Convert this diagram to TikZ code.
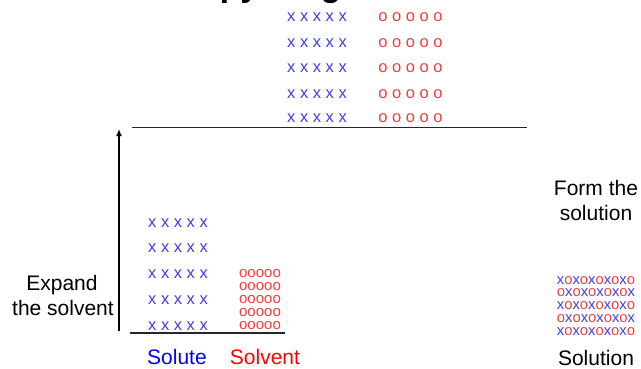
\documentclass[tikz,border=0pt]{standalone}
\usepackage{fontspec}
\setmainfont{Liberation Sans}
\usetikzlibrary{arrows.meta}
\definecolor{xblue}{RGB}{64,64,226}
\definecolor{ored}{RGB}{240,64,64}
\newcommand\myX{\textcolor{xblue}{x}}
\newcommand\myO{\textcolor{ored}{o}}
\tikzset{
  lbl/.style={font=\fontsize{21}{24}\selectfont, anchor=base, inner sep=0pt},
  xrow/.style={font=\fontsize{16.5}{18}\selectfont, text=xblue, inner sep=0pt},
  orow/.style={font=\fontsize{16.5}{18}\selectfont, text=ored, inner sep=0pt},
  ocompact/.style={font=\fontsize{15}{16}\selectfont, text=ored, inner sep=0pt},
  mixrow/.style={font=\fontsize{14.8}{16}\selectfont, inner sep=0pt},
  shelf/.style={line width=1.5pt, black!85},
}
\begin{document}
\begin{tikzpicture}[x=1pt,y=-1pt]
\clip (0,0) rectangle (641,368);
% title, clipped at the top
\node[font=\bfseries\fontsize{33.6}{36}\selectfont, anchor=base west, inner sep=0pt] (title) at (117,-3.5) {Enthalpy Diagram};
% top level: expanded solute and solvent
\foreach \y [count=\i] in {17,43,68,94,118} {
  \node[xrow] (tx\i) at (317,\y) {x x x x x};
  \node[orow] (to\i) at (410.5,\y) {o o o o o};
}
\coordinate (tl1) at (132,127.5);
\coordinate (tl2) at (527,127.5);
\draw[shelf] (tl1) -- (tl2);
% bottom level: solute and solvent
\foreach \y [count=\i] in {223,248,274,300,326} {
  \node[xrow] (bx\i) at (178,\y) {x x x x x};
}
\foreach \y [count=\i] in {274,287,300,313,326} {
  \node[ocompact] (bo\i) at (260,\y) {ooooo};
}
\coordinate (bl1) at (130,333);
\coordinate (bl2) at (285,333);
\draw[shelf] (bl1) -- (bl2);
% arrow
\coordinate (a0) at (119,331);
\coordinate (a1) at (119,129);
\draw[line width=1.5pt, -{Latex[length=7pt,width=6pt]}] (a0) -- (a1);
% labels
\node[lbl] (exp1) at (62,290) {Expand};
\node[lbl] (exp2) at (63,315) {the solvent};
\node[lbl, text=blue] (solute) at (177,364) {Solute};
\node[lbl, text=red] (solvent) at (265,364.5) {Solvent};
\node[lbl] (form1) at (596,195) {Form the};
\node[lbl] (form2) at (596,220) {solution};
\node[lbl] (solution) at (596,365.5) {Solution};
% solution block
\foreach \y [count=\i] in {281,306,332} {
  \node[mixrow] (sa\i) at (596,\y) {\myX\myO\myX\myO\myX\myO\myX\myO\myX\myO};
}
\foreach \y [count=\i] in {293,319} {
  \node[mixrow] (sb\i) at (596,\y) {\myO\myX\myO\myX\myO\myX\myO\myX\myO\myX};
}
\end{tikzpicture}
\end{document}
